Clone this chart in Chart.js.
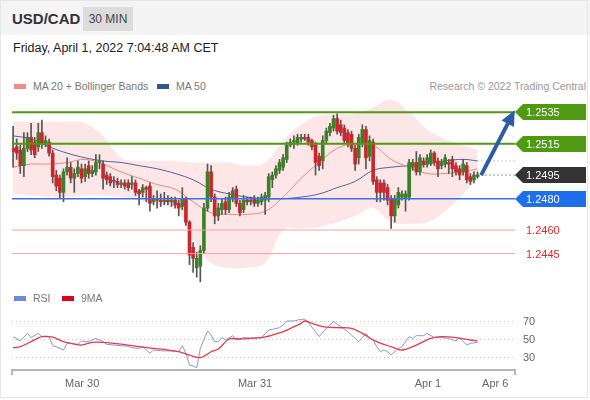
<!DOCTYPE html>
<html>
<head>
<meta charset="utf-8">
<script src="https://cdn.jsdelivr.net/npm/chart.js@4.4.1/dist/chart.umd.min.js"></script>
<style>
body{margin:0;background:#fff;font-family:"Liberation Sans",Arial,sans-serif}
#wrap{position:relative;width:590px;height:400px;overflow:hidden}
#frame{position:absolute;left:0;top:0;width:588px;height:398px;box-sizing:border-box;border:1px solid #e6e6e6}
#head{position:absolute;left:0;top:0;width:590px;height:35px;background:#f4f4f4}
#pair{position:absolute;left:12px;top:10px;font-size:15px;font-weight:bold;color:#333}
#tf{position:absolute;left:83px;top:7px;width:50px;height:24px;line-height:24px;text-align:center;background:#dcdcdc;font-size:12px;color:#444}
#date{position:absolute;left:13px;top:41px;font-size:12.5px;color:#222}
.lg{position:absolute;font-size:10.5px;color:#777;line-height:12px;white-space:nowrap}
.lg i{display:inline-block;width:12px;height:5px;margin-right:7px;vertical-align:middle;position:relative;top:-1px}
#credit{position:absolute;right:4px;top:80px;font-size:10.5px;color:#999}
canvas{position:absolute;left:0}
#main{top:95px}
#rsi{top:300px}
</style>
</head>
<body>
<div id="wrap">
  <div id="head"></div>
  <div id="frame"></div>
  <div id="pair">USD/CAD</div>
  <div id="tf">30 MIN</div>
  <div id="date">Friday, April 1, 2022 7:04:48 AM CET</div>
  <canvas id="main" width="590" height="190"></canvas>
  <canvas id="rsi" width="590" height="100"></canvas>
  <div class="lg" style="left:14px;top:80px"><i style="background:#f28b8b"></i>MA 20 + Bollinger Bands</div>
  <div class="lg" style="left:157px;top:80px"><i style="background:#2f5597"></i>MA 50</div>
  <div id="credit">Research © 2022 Trading Central</div>
  <div class="lg" style="left:14px;top:292px"><i style="background:#6c8ad8"></i>RSI</div>
  <div class="lg" style="left:62px;top:292px"><i style="background:#e0001b"></i>9MA</div>
</div>
<script>
// 30 min candles, Mar 29 14:30 -> Apr 1 07:00
var candleOpen = [1.2512,1.2513,1.2511,1.2501,1.2512,1.2519,1.2516,1.2513,1.2522,1.2515,
  1.2516,1.2509,1.2495,1.2493,1.2484,1.2497,1.2500,1.2493,1.2496,1.2499,
  1.2494,1.2501,1.2496,1.2497,1.2503,1.2502,1.2495,1.2494,1.2491,1.2491,
  1.2489,1.2490,1.2490,1.2489,1.2490,1.2485,1.2484,1.2487,1.2488,1.2478,
  1.2480,1.2479,1.2478,1.2479,1.2478,1.2479,1.2477,1.2475,1.2480,1.2465,
  1.2449,1.2436,1.2437,1.2447,1.2474,1.2497,1.2481,1.2469,1.2473,1.2478,
  1.2473,1.2480,1.2486,1.2477,1.2473,1.2479,1.2478,1.2480,1.2477,1.2478,
  1.2479,1.2481,1.2492,1.2495,1.2498,1.2500,1.2505,1.2514,1.2516,1.2515,
  1.2518,1.2519,1.2519,1.2517,1.2514,1.2507,1.2504,1.2517,1.2522,1.2525,
  1.2531,1.2527,1.2525,1.2522,1.2521,1.2512,1.2506,1.2515,1.2524,1.2507,
  1.2516,1.2492,1.2490,1.2490,1.2487,1.2480,1.2469,1.2476,1.2481,1.2480,
  1.2481,1.2500,1.2503,1.2497,1.2504,1.2502,1.2503,1.2509,1.2504,1.2501,
  1.2502,1.2503,1.2505,1.2501,1.2499,1.2497,1.2501,1.2494,1.2492,1.2494]
var candleHigh = [1.2526,1.2518,1.2514,1.2522,1.2522,1.2528,1.2519,1.2528,1.2530,1.2520,
  1.2518,1.2511,1.2498,1.2495,1.2499,1.2506,1.2503,1.2499,1.2504,1.2502,
  1.2502,1.2504,1.2501,1.2508,1.2508,1.2504,1.2497,1.2496,1.2494,1.2493,
  1.2492,1.2492,1.2492,1.2494,1.2492,1.2486,1.2489,1.2488,1.2490,1.2482,
  1.2485,1.2483,1.2484,1.2482,1.2481,1.2481,1.2479,1.2487,1.2481,1.2466,
  1.2452,1.2446,1.2450,1.2477,1.2502,1.2501,1.2483,1.2477,1.2480,1.2481,
  1.2484,1.2487,1.2488,1.2479,1.2482,1.2481,1.2481,1.2482,1.2481,1.2483,
  1.2484,1.2496,1.2497,1.2501,1.2505,1.2508,1.2516,1.2518,1.2520,1.2521,
  1.2521,1.2521,1.2521,1.2518,1.2516,1.2509,1.2520,1.2525,1.2528,1.2533,
  1.2534,1.2530,1.2527,1.2524,1.2523,1.2514,1.2521,1.2527,1.2526,1.2520,
  1.2518,1.2494,1.2492,1.2492,1.2489,1.2482,1.2482,1.2487,1.2485,1.2485,
  1.2505,1.2505,1.2510,1.2508,1.2506,1.2508,1.2511,1.2510,1.2506,1.2505,
  1.2508,1.2505,1.2507,1.2503,1.2501,1.2505,1.2503,1.2496,1.2497,1.2497]
var candleLow = [1.2500,1.2505,1.2496,1.2494,1.2510,1.2508,1.2506,1.2510,1.2512,1.2513,
  1.2507,1.2490,1.2485,1.2480,1.2478,1.2495,1.2490,1.2484,1.2494,1.2490,
  1.2491,1.2493,1.2494,1.2495,1.2499,1.2486,1.2489,1.2488,1.2487,1.2487,
  1.2487,1.2486,1.2485,1.2486,1.2482,1.2476,1.2481,1.2478,1.2472,1.2476,
  1.2474,1.2475,1.2476,1.2476,1.2475,1.2474,1.2469,1.2473,1.2463,1.2438,
  1.2433,1.2430,1.2427,1.2445,1.2472,1.2478,1.2464,1.2466,1.2470,1.2470,
  1.2471,1.2478,1.2475,1.2469,1.2471,1.2476,1.2476,1.2475,1.2475,1.2476,
  1.2470,1.2478,1.2487,1.2493,1.2496,1.2498,1.2503,1.2513,1.2512,1.2514,
  1.2516,1.2517,1.2514,1.2511,1.2495,1.2498,1.2499,1.2515,1.2520,1.2523,
  1.2521,1.2520,1.2515,1.2513,1.2510,1.2498,1.2502,1.2513,1.2499,1.2504,
  1.2489,1.2478,1.2478,1.2479,1.2476,1.2461,1.2465,1.2474,1.2479,1.2472,
  1.2479,1.2498,1.2495,1.2495,1.2500,1.2500,1.2501,1.2501,1.2494,1.2499,
  1.2500,1.2496,1.2494,1.2495,1.2492,1.2495,1.2490,1.2489,1.2490,1.2493]
var candleClose = [1.2510,1.2509,1.2501,1.2512,1.2519,1.2511,1.2508,1.2522,1.2515,1.2517,
  1.2509,1.2494,1.2488,1.2484,1.2497,1.2500,1.2493,1.2496,1.2500,1.2493,
  1.2499,1.2496,1.2498,1.2503,1.2504,1.2493,1.2492,1.2490,1.2491,1.2489,
  1.2490,1.2488,1.2487,1.2490,1.2484,1.2483,1.2487,1.2486,1.2477,1.2480,
  1.2479,1.2478,1.2479,1.2478,1.2479,1.2476,1.2474,1.2480,1.2465,1.2444,
  1.2442,1.2442,1.2447,1.2474,1.2497,1.2481,1.2469,1.2474,1.2477,1.2473,
  1.2481,1.2485,1.2477,1.2471,1.2479,1.2478,1.2479,1.2477,1.2479,1.2481,
  1.2482,1.2494,1.2495,1.2499,1.2503,1.2506,1.2514,1.2516,1.2517,1.2519,
  1.2519,1.2518,1.2516,1.2513,1.2503,1.2501,1.2517,1.2523,1.2526,1.2531,
  1.2523,1.2522,1.2517,1.2515,1.2512,1.2502,1.2519,1.2524,1.2506,1.2517,
  1.2491,1.2484,1.2484,1.2484,1.2479,1.2469,1.2480,1.2484,1.2483,1.2483,
  1.2503,1.2503,1.2497,1.2506,1.2502,1.2506,1.2509,1.2503,1.2499,1.2503,
  1.2506,1.2502,1.2499,1.2497,1.2495,1.2502,1.2492,1.2491,1.2495,1.2495]

// indicator readings (every 5th candle)
var bandIdx = [0,5,10,15,20,25,30,35,40,45,50,55,60,65,70,75,80,85,90,95,100,105,110,115,120,125,129]
var bbUpper = [1.2529,1.2529,1.2529,1.2529,1.2528,1.2520,1.2506,1.2504,1.2504,1.2504,1.2503,1.2503,1.2503,1.2501,1.2503,1.2517,1.2527,1.2533,1.2534,1.2534,1.2538,1.2543,1.2535,1.2524,1.2518,1.2514,1.2511]
var bbLower = [1.2483,1.2482,1.2481,1.2481,1.2482,1.2482,1.2481,1.2479,1.2476,1.2474,1.2453,1.2439,1.2436,1.2436,1.2439,1.2460,1.2461,1.2462,1.2465,1.2469,1.2474,1.2465,1.2464,1.2465,1.2472,1.2483,1.2493]
var ma20 = [1.2500,1.2502,1.2502,1.2503,1.2505,1.2502,1.2497,1.2493,1.2489,1.2486,1.2478,1.2471,1.2470,1.2470,1.2472,1.2481,1.2493,1.2503,1.2512,1.2515,1.2514,1.2505,1.2500,1.2496,1.2496,1.2497,1.2499]
var ma50 = [1.2520,1.2518,1.2513,1.2509,1.2506,1.2504,1.2503,1.2501,1.2499,1.2496,1.2492,1.2486,1.2483,1.2481,1.2480,1.2480,1.2481,1.2483,1.2487,1.2491,1.2498,1.2500,1.2501,1.2502,1.2504,1.2505,1.2504]

var levelValues = [1.2535, 1.2515, 1.2495, 1.2480, 1.2460, 1.2445]
var arrowFrom = {x:130, y:1.2495}
var arrowTo = {x:137.9, y:1.2530}

var rsiIdx = [0,2,4,5,7,8,10,11,12,14,15,16,18,19,21,23,25,26,28,30,32,33,35,36,38,39,41,43,44,46,47,48,49,50,51,52,54,55,56,57,58,59,61,62,64,66,68,69,71,72,74,75,76,78,80,81,82,85,87,89,91,93,94,96,97,98,99,100,101,102,103,104,105,107,108,110,111,112,114,115,117,119,121,123,124,126,127,129]
var rsiVal = [52.6,47.8,56.3,51.5,56.3,52.6,52.6,42.6,41.5,37.8,45.2,45.2,44.1,47.8,47,50.7,47,44,43.3,42.6,41.9,40.4,39.6,41.5,34.1,37.8,37,36.7,36.7,35.9,42.6,34.1,21.1,20,18.1,39.6,58.9,54.4,47,47,51.5,48.9,53.7,48.9,51.5,51,51.5,51.5,60,60.7,62.6,65.6,70,70,71.9,72,68.5,52.6,61.9,69.3,63.7,58.1,54.4,47,51.5,56.3,50.7,48.9,41.5,35.9,37.8,35.9,32.2,39.6,41.5,52.6,50.7,53.7,53.7,56.3,51.5,51.5,50.7,47.8,51.5,43.3,45.2,46.3]
var rsiMaIdx = [0,2,5,8,11,14,17,19,22,25,28,32,35,39,43,46,49,52,55,57,60,63,66,69,72,75,78,80,81,83,86,90,94,97,101,105,108,112,116,119,123,127,129]
var rsiMaVal = [40.4,41.5,47,52.6,52,47,44.4,43.3,46.3,46.3,45.2,43.3,41.5,39.6,37.8,35.9,32.2,29.3,35.9,38.9,50,50,50.7,51.5,54.4,58.1,63.7,67.4,70,67.4,63.7,62.6,61.9,56.3,47,41.5,37.8,43.3,50.7,52.6,51.5,48.9,47.8]
var rsiTicks = [30, 50, 70]

var tickPos = [19.2, 67.2, 115.2, 133.9]
var tickLabels = ['Mar 30', 'Mar 31', 'Apr 1', 'Apr 6']

var xMin = -0.3, xMax = 139.4
var green = '#3b8128', red = '#c9262d'
var levelStyle = [
  {line:'#4f9a10', w:2, box:'#4f9a10'},
  {line:'#4f9a10', w:2, box:'#4f9a10'},
  {line:null, box:'#333333'},
  {line:'#3a72e6', w:1.5, box:'#1f6fea'},
  {line:'#f4a3a3', w:1, text:'#e3262e'},
  {line:'#f4a3a3', w:1, text:'#e3262e'}
]
var labelFont = '11px "Liberation Sans", Arial, sans-serif'

function pts(xs, ys){
  return xs.map(function(x, i){ return {x:x, y:ys[i]} })
}
function candleColor(i){
  if (candleClose[i] > candleOpen[i]) return green
  if (candleClose[i] < candleOpen[i]) return red
  return '#555'
}

var bodies = candleOpen.map(function(o, i){ return {x:i, y:[o, candleClose[i]]} })
var wicks = candleLow.map(function(l, i){ return {x:i, y:[l, candleHigh[i]]} })
var lastI = candleClose.length - 1

var datasets = [
  {type:'line', data:pts(bandIdx, bbUpper), borderWidth:0, pointRadius:0, tension:0.4, fill:false, order:20},
  {type:'line', data:pts(bandIdx, bbLower), borderWidth:0, pointRadius:0, tension:0.4, fill:'-1', backgroundColor:'rgba(251,200,200,0.45)', order:20},
  {type:'line', data:pts(bandIdx, ma20), borderColor:'#f08585', borderWidth:1, pointRadius:0, tension:0.4, order:15},
  {type:'line', data:pts(bandIdx, ma50), borderColor:'#4c64a0', borderWidth:1, pointRadius:0, tension:0.4, order:15},
  {type:'bar', data:wicks, backgroundColor:'#555', barThickness:1, grouped:false, order:10},
  {type:'bar', data:bodies, backgroundColor:function(c){ return candleColor(c.dataIndex) }, barThickness:3, minBarLength:1, grouped:false, order:9}
]
levelValues.forEach(function(v, i){
  var s = levelStyle[i]
  if (!s.line) return
  datasets.push({type:'line', data:[{x:xMin, y:v}, {x:xMax, y:v}], borderColor:s.line, borderWidth:s.w, pointRadius:0, order:5})
})
datasets.push({type:'line', data:[{x:lastI, y:candleClose[lastI]}, {x:xMax, y:candleClose[lastI]}], borderColor:'#333', borderWidth:1, borderDash:[1,3], pointRadius:0, order:4})
datasets.push({type:'line', data:[{x:lastI, y:ma50[ma50.length-1]}, {x:xMax, y:ma50[ma50.length-1]}], borderColor:'#999', borderWidth:1, borderDash:[1,3], pointRadius:0, order:4})
datasets.push({type:'line', data:[arrowFrom, arrowTo], borderColor:'#2d5ca6', borderWidth:4, pointRadius:0, order:1})
var arrowIndex = datasets.length - 1

var levelLabels = {
  id:'levelLabels',
  afterDatasetsDraw: function(chart){
    var ctx = chart.ctx, y = chart.scales.y, left = chart.chartArea.right
    ctx.save()
    // arrow head
    var m = chart.getDatasetMeta(arrowIndex), p0 = m.data[0], p1 = m.data[1]
    var dx = p1.x - p0.x, dy = p1.y - p0.y, len = Math.sqrt(dx*dx + dy*dy)
    dx /= len; dy /= len
    ctx.fillStyle = '#2d5ca6'
    ctx.beginPath()
    ctx.moveTo(p1.x + dx*11, p1.y + dy*11)
    ctx.lineTo(p1.x - dx*4 - dy*7, p1.y - dy*4 + dx*7)
    ctx.lineTo(p1.x - dx*4 + dy*7, p1.y - dy*4 - dx*7)
    ctx.closePath()
    ctx.fill()
    ctx.font = labelFont
    ctx.textBaseline = 'middle'
    levelValues.forEach(function(v, i){
      var s = levelStyle[i], py = Math.round(y.getPixelForValue(v))
      if (s.box) {
        ctx.fillStyle = s.box
        ctx.beginPath()
        ctx.moveTo(left, py)
        ctx.lineTo(left + 8, py - 8)
        ctx.lineTo(586, py - 8)
        ctx.lineTo(586, py + 8)
        ctx.lineTo(left + 8, py + 8)
        ctx.closePath()
        ctx.fill()
        ctx.fillStyle = '#fff'
      } else {
        ctx.fillStyle = s.text
      }
      ctx.fillText(v.toFixed(4), left + 11, py + 1)
    })
    ctx.restore()
  }
}

new Chart(document.getElementById('main'), {
  type:'bar',
  data:{datasets:datasets},
  options:{
    responsive:false,
    animation:false,
    layout:{padding:{left:12, right:75, top:0, bottom:0}},
    plugins:{legend:{display:false}, tooltip:{enabled:false}},
    scales:{
      x:{type:'linear', min:xMin, max:xMax, offset:false, display:false},
      y:{type:'linear', min:1.2425, max:1.2546, display:false}
    }
  },
  plugins:[levelLabels]
})

// rsi grid + labels on the right, axis end marks
var rsiDecor = {
  id:'rsiDecor',
  beforeDatasetsDraw: function(chart){
    var ctx = chart.ctx, a = chart.chartArea, y = chart.scales.y
    ctx.save()
    ctx.strokeStyle = '#cfc3c3'
    ctx.lineWidth = 1
    ctx.setLineDash([1, 3])
    rsiTicks.forEach(function(v){
      var py = Math.round(y.getPixelForValue(v)) + 0.5
      ctx.beginPath(); ctx.moveTo(a.left, py); ctx.lineTo(a.right, py); ctx.stroke()
    })
    ctx.restore()
  },
  afterDraw: function(chart){
    var ctx = chart.ctx, a = chart.chartArea, y = chart.scales.y
    ctx.save()
    ctx.fillStyle = '#666'
    ctx.font = labelFont
    ctx.textBaseline = 'middle'
    rsiTicks.forEach(function(v){
      ctx.fillText(String(v), a.right + 8, y.getPixelForValue(v) + 1)
    })
    ctx.strokeStyle = '#b5b5b5'
    ctx.lineWidth = 2
    ctx.beginPath()
    ctx.moveTo(a.left, a.bottom); ctx.lineTo(a.left, a.bottom + 5)
    ctx.moveTo(a.right, a.bottom); ctx.lineTo(a.right, a.bottom + 5)
    ctx.stroke()
    ctx.restore()
  }
}

new Chart(document.getElementById('rsi'), {
  type:'line',
  data:{datasets:[
    {data:pts(rsiMaIdx, rsiMaVal), borderColor:'#e53a4c', borderWidth:1.3, pointRadius:0, tension:0.3, order:1},
    {data:pts(rsiIdx, rsiVal), borderColor:'#8198dc', borderWidth:1, pointRadius:0, tension:0, order:2}
  ]},
  options:{
    responsive:false,
    animation:false,
    layout:{padding:{left:12, right:75, top:0, bottom:0}},
    plugins:{legend:{display:false}, tooltip:{enabled:false}},
    scales:{
      x:{
        type:'linear', min:xMin, max:xMax, offset:false,
        afterBuildTicks: function(s){ s.ticks = tickPos.map(function(v){ return {value:v} }) },
        afterFit: function(s){ s.height = 30 },
        ticks:{autoSkip:false, maxRotation:0, color:'#666', font:{size:11, family:'"Liberation Sans", Arial'}, padding:7,
          callback: function(v, i){ return tickLabels[i] }},
        grid:{display:false, drawTicks:false},
        border:{display:true, color:'#b5b5b5', width:2}
      },
      y:{min:15.6, max:93.3, display:false}
    }
  },
  plugins:[rsiDecor]
})
</script>
</body>
</html>
